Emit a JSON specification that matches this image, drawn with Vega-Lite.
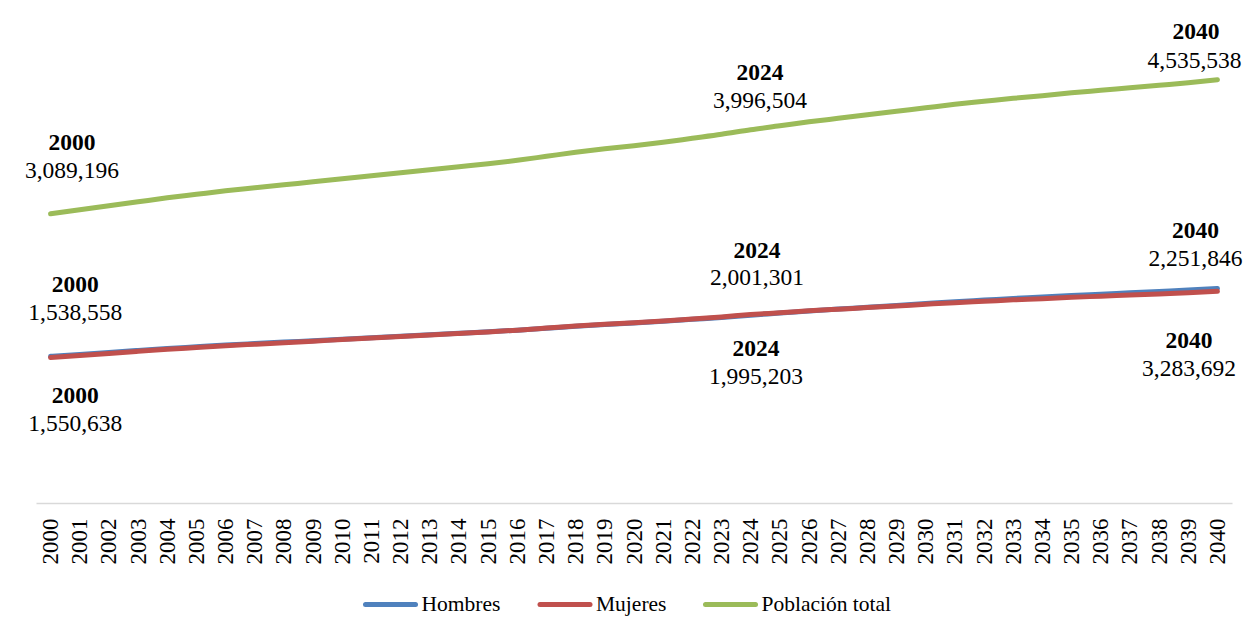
{
  "$schema": "https://vega.github.io/schema/vega-lite/v6.json",
  "width": 1196,
  "height": 489,
  "autosize": {"type": "none"},
  "padding": {"left": 36, "top": 11, "right": 27, "bottom": 137},
  "background": "white",
  "config": {"view": {"stroke": null}},
  "datasets": {
    "pop": [
      {"year": "2000", "Hombres": 1550638, "Mujeres": 1538558, "Población total": 3089196},
      {"year": "2001", "Hombres": 1571840, "Mujeres": 1560516, "Población total": 3132356},
      {"year": "2002", "Hombres": 1593041, "Mujeres": 1582475, "Población total": 3175516},
      {"year": "2003", "Hombres": 1614242, "Mujeres": 1604434, "Población total": 3218676},
      {"year": "2004", "Hombres": 1635444, "Mujeres": 1626392, "Población total": 3261836},
      {"year": "2005", "Hombres": 1653948, "Mujeres": 1645653, "Población total": 3299601},
      {"year": "2006", "Hombres": 1672451, "Mujeres": 1664915, "Población total": 3337366},
      {"year": "2007", "Hombres": 1688258, "Mujeres": 1681478, "Población total": 3369736},
      {"year": "2008", "Hombres": 1704064, "Mujeres": 1698042, "Población total": 3402106},
      {"year": "2009", "Hombres": 1719870, "Mujeres": 1714606, "Población total": 3434476},
      {"year": "2010", "Hombres": 1735677, "Mujeres": 1731169, "Población total": 3466846},
      {"year": "2011", "Hombres": 1751483, "Mujeres": 1747733, "Población total": 3499216},
      {"year": "2012", "Hombres": 1767290, "Mujeres": 1764296, "Población total": 3531586},
      {"year": "2013", "Hombres": 1783096, "Mujeres": 1780860, "Población total": 3563956},
      {"year": "2014", "Hombres": 1798902, "Mujeres": 1797424, "Población total": 3596326},
      {"year": "2015", "Hombres": 1814709, "Mujeres": 1813987, "Población total": 3628696},
      {"year": "2016", "Hombres": 1833212, "Mujeres": 1833249, "Población total": 3666461},
      {"year": "2017", "Hombres": 1854414, "Mujeres": 1855208, "Población total": 3709621},
      {"year": "2018", "Hombres": 1875615, "Mujeres": 1877167, "Población total": 3752781},
      {"year": "2019", "Hombres": 1894118, "Mujeres": 1896428, "Población total": 3790546},
      {"year": "2020", "Hombres": 1909925, "Mujeres": 1912991, "Población total": 3822916},
      {"year": "2021", "Hombres": 1928429, "Mujeres": 1932253, "Población total": 3860681},
      {"year": "2022", "Hombres": 1949631, "Mujeres": 1954211, "Población total": 3903841},
      {"year": "2023", "Hombres": 1970832, "Mujeres": 1976170, "Población total": 3947001},
      {"year": "2024", "Hombres": 1995203, "Mujeres": 2001301, "Población total": 3996504},
      {"year": "2025", "Hombres": 2017495, "Mujeres": 2021221, "Población total": 4038716},
      {"year": "2026", "Hombres": 2040260, "Mujeres": 2041616, "Población total": 4081876},
      {"year": "2027", "Hombres": 2060330, "Mujeres": 2059312, "Población total": 4119641},
      {"year": "2028", "Hombres": 2080397, "Mujeres": 2077009, "Población total": 4157406},
      {"year": "2029", "Hombres": 2100466, "Mujeres": 2094706, "Población total": 4195171},
      {"year": "2030", "Hombres": 2120534, "Mujeres": 2112402, "Población total": 4232936},
      {"year": "2031", "Hombres": 2140603, "Mujeres": 2130099, "Población total": 4270701},
      {"year": "2032", "Hombres": 2157973, "Mujeres": 2145099, "Población total": 4303071},
      {"year": "2033", "Hombres": 2175344, "Mujeres": 2160098, "Población total": 4335441},
      {"year": "2034", "Hombres": 2190017, "Mujeres": 2172399, "Población total": 4362416},
      {"year": "2035", "Hombres": 2207388, "Mujeres": 2187398, "Población total": 4394786},
      {"year": "2036", "Hombres": 2222061, "Mujeres": 2199701, "Población total": 4421761},
      {"year": "2037", "Hombres": 2236734, "Mujeres": 2212002, "Población total": 4448736},
      {"year": "2038", "Hombres": 2251408, "Mujeres": 2224304, "Población total": 4475711},
      {"year": "2039", "Hombres": 2266081, "Mujeres": 2236605, "Población total": 4502686},
      {"year": "2040", "Hombres": 2283692, "Mujeres": 2251846, "Población total": 4535538}
    ],
    "labels": [
      {"group": "total", "year": "2000", "value": 3089196, "label": "3,089,196"},
      {"group": "total", "year": "2024", "value": 3996504, "label": "3,996,504"},
      {"group": "total", "year": "2040", "value": 4535538, "label": "4,535,538"},
      {"group": "upper", "year": "2000", "value": 1550638, "label": "1,538,558"},
      {"group": "upper", "year": "2024", "value": 2001301, "label": "2,001,301"},
      {"group": "upper", "year": "2040", "value": 2283692, "label": "2,251,846"},
      {"group": "lower", "year": "2000", "value": 1538558, "label": "1,550,638"},
      {"group": "lower", "year": "2024", "value": 1995203, "label": "1,995,203"},
      {"group": "lower", "year": "2040", "value": 2251846, "label": "3,283,692"}
    ]
  },
  "encoding": {
    "x": {
      "field": "year",
      "type": "ordinal",
      "axis": {
        "title": null,
        "labelAngle": -90,
        "labelAlign": "right",
        "labelBaseline": "middle",
        "labelFont": "Liberation Serif",
        "labelFontSize": 23,
        "labelColor": "black",
        "labelPadding": 15,
        "labelOverlap": false,
        "ticks": false,
        "tickSize": 0,
        "grid": false,
        "domainColor": "#d9d9d9",
        "domainWidth": 1.5,
        "offset": 3
      }
    },
    "y": {
      "field": "value",
      "type": "quantitative",
      "scale": {"domain": [0, 5278000], "nice": false, "zero": true},
      "axis": null
    }
  },
  "layer": [
    {
      "data": {"name": "pop"},
      "transform": [{"fold": ["Hombres", "Mujeres", "Población total"], "as": ["serie", "value"]}],
      "mark": {"type": "line", "strokeWidth": 5, "strokeCap": "round", "strokeJoin": "round", "interpolate": "monotone"},
      "encoding": {
        "color": {
          "field": "serie",
          "type": "nominal",
          "scale": {"domain": ["Hombres", "Mujeres", "Población total"], "range": ["#4F81BD", "#C0504D", "#9BBB59"]},
          "legend": {
            "title": null,
            "orient": "none",
            "legendX": 327,
            "legendY": 566,
            "direction": "horizontal",
            "symbolType": "stroke",
            "symbolSize": 2500,
            "symbolStrokeWidth": 5,
            "labelFont": "Liberation Serif",
            "labelFontSize": 21.5,
            "labelColor": "black",
            "labelOffset": 3.5,
            "columnPadding": 28.5,
            "padding": 0,
            "labelLimit": 0,
            "encode": {"symbols": {"update": {"strokeCap": {"value": "round"}}}}
          }
        }
      }
    },
    {"data": {"name": "labels"}, "transform": [{"filter": "datum.group === 'total' && datum.year === '2000'"}],
     "layer": [
       {"mark": {"type": "text", "font": "Liberation Serif", "fontSize": 23.5, "fontWeight": "bold", "color": "black", "dx": 21.4, "dy": -70.5}, "encoding": {"text": {"field": "year"}}},
       {"mark": {"type": "text", "font": "Liberation Serif", "fontSize": 23.5, "color": "black", "dx": 21.4, "dy": -42.8}, "encoding": {"text": {"field": "label"}}}
     ]},
    {"data": {"name": "labels"}, "transform": [{"filter": "datum.group === 'total' && datum.year === '2024'"}],
     "layer": [
       {"mark": {"type": "text", "font": "Liberation Serif", "fontSize": 23.5, "fontWeight": "bold", "color": "black", "dx": 9.3, "dy": -56.9}, "encoding": {"text": {"field": "year"}}},
       {"mark": {"type": "text", "font": "Liberation Serif", "fontSize": 23.5, "color": "black", "dx": 9.3, "dy": -28.9}, "encoding": {"text": {"field": "label"}}}
     ]},
    {"data": {"name": "labels"}, "transform": [{"filter": "datum.group === 'total' && datum.year === '2040'"}],
     "layer": [
       {"mark": {"type": "text", "font": "Liberation Serif", "fontSize": 23.5, "fontWeight": "bold", "color": "black", "dx": -21.4, "dy": -47.3}, "encoding": {"text": {"field": "year"}}},
       {"mark": {"type": "text", "font": "Liberation Serif", "fontSize": 23.5, "color": "black", "dx": -22.9, "dy": -18.6}, "encoding": {"text": {"field": "label"}}}
     ]},
    {"data": {"name": "labels"}, "transform": [{"filter": "datum.group === 'upper' && datum.year === '2000'"}],
     "layer": [
       {"mark": {"type": "text", "font": "Liberation Serif", "fontSize": 23.5, "fontWeight": "bold", "color": "black", "dx": 24.7, "dy": -71.6}, "encoding": {"text": {"field": "year"}}},
       {"mark": {"type": "text", "font": "Liberation Serif", "fontSize": 23.5, "color": "black", "dx": 24.7, "dy": -43.5}, "encoding": {"text": {"field": "label"}}}
     ]},
    {"data": {"name": "labels"}, "transform": [{"filter": "datum.group === 'upper' && datum.year === '2024'"}],
     "layer": [
       {"mark": {"type": "text", "font": "Liberation Serif", "fontSize": 23.5, "fontWeight": "bold", "color": "black", "dx": 6.3, "dy": -63.8}, "encoding": {"text": {"field": "year"}}},
       {"mark": {"type": "text", "font": "Liberation Serif", "fontSize": 23.5, "color": "black", "dx": 6.3, "dy": -36.8}, "encoding": {"text": {"field": "label"}}}
     ]},
    {"data": {"name": "labels"}, "transform": [{"filter": "datum.group === 'upper' && datum.year === '2040'"}],
     "layer": [
       {"mark": {"type": "text", "font": "Liberation Serif", "fontSize": 23.5, "fontWeight": "bold", "color": "black", "dx": -22, "dy": -57.2}, "encoding": {"text": {"field": "year"}}},
       {"mark": {"type": "text", "font": "Liberation Serif", "fontSize": 23.5, "color": "black", "dx": -22, "dy": -29.2}, "encoding": {"text": {"field": "label"}}}
     ]},
    {"data": {"name": "labels"}, "transform": [{"filter": "datum.group === 'lower' && datum.year === '2000'"}],
     "layer": [
       {"mark": {"type": "text", "font": "Liberation Serif", "fontSize": 23.5, "fontWeight": "bold", "color": "black", "dx": 24.7, "dy": 38.7}, "encoding": {"text": {"field": "year"}}},
       {"mark": {"type": "text", "font": "Liberation Serif", "fontSize": 23.5, "color": "black", "dx": 24.7, "dy": 67}, "encoding": {"text": {"field": "label"}}}
     ]},
    {"data": {"name": "labels"}, "transform": [{"filter": "datum.group === 'lower' && datum.year === '2024'"}],
     "layer": [
       {"mark": {"type": "text", "font": "Liberation Serif", "fontSize": 23.5, "fontWeight": "bold", "color": "black", "dx": 5.3, "dy": 34.3}, "encoding": {"text": {"field": "year"}}},
       {"mark": {"type": "text", "font": "Liberation Serif", "fontSize": 23.5, "color": "black", "dx": 5.3, "dy": 62.3}, "encoding": {"text": {"field": "label"}}}
     ]},
    {"data": {"name": "labels"}, "transform": [{"filter": "datum.group === 'lower' && datum.year === '2040'"}],
     "layer": [
       {"mark": {"type": "text", "font": "Liberation Serif", "fontSize": 23.5, "fontWeight": "bold", "color": "black", "dx": -28.4, "dy": 49.9}, "encoding": {"text": {"field": "year"}}},
       {"mark": {"type": "text", "font": "Liberation Serif", "fontSize": 23.5, "color": "black", "dx": -28.4, "dy": 78.1}, "encoding": {"text": {"field": "label"}}}
     ]}
  ]
}
